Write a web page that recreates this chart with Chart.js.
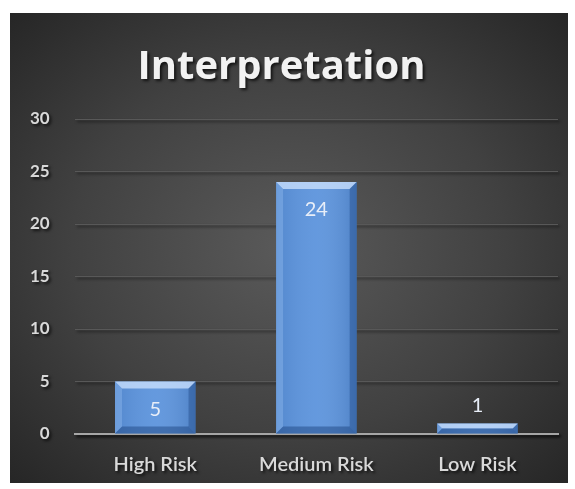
<!DOCTYPE html>
<html>
<head>
<meta charset="utf-8">
<script src="https://cdn.jsdelivr.net/npm/chart.js@4"></script>
<style>
    html, body { margin: 0; padding: 0; background: #ffffff; }
    #frame {
        position: absolute;
        left: 10px; top: 13px;
        width: 558px; height: 470px;
        background: radial-gradient(ellipse at 50% 50%, #5a5a5a 0%, #414141 55%, #262626 100%);
    }
    canvas { display: block; }
</style>
</head>
<body>
<div id="frame"><canvas id="chart" width="558" height="470"></canvas></div>
<script>
// Data
const categories = ['High Risk', 'Medium Risk', 'Low Risk'];
const values = [5, 24, 1];
const yTicks = [0, 5, 10, 15, 20, 25, 30];

const FONT = 'Lato, "Open Sans", sans-serif';
const BAR_BLUE = '#5b93dc';

/**
 * Bevel highlights + value labels on the bars
 */
const barDecor = {
    id: 'barDecor',
    afterDatasetsDraw(chart) {
        const ctx = chart.ctx;
        const meta = chart.getDatasetMeta(0);
        meta.data.forEach((bar, i) => {
            const left = bar.x - bar.width / 2;
            const right = bar.x + bar.width / 2;
            const top = bar.y;
            const bottom = bar.base;
            const h = bottom - top;
            const b = Math.min(7, h / 2);

            ctx.save();
            // soft horizontal sheen
            const g = ctx.createLinearGradient(left, 0, right, 0);
            g.addColorStop(0, 'rgba(20, 50, 100, 0.12)');
            g.addColorStop(0.5, 'rgba(255, 255, 255, 0.06)');
            g.addColorStop(1, 'rgba(20, 50, 100, 0.18)');
            ctx.fillStyle = g;
            ctx.fillRect(left, top, right - left, h);
            // top bevel (light)
            ctx.fillStyle = 'rgba(200, 222, 252, 0.8)';
            ctx.beginPath();
            ctx.moveTo(left, top);
            ctx.lineTo(right, top);
            ctx.lineTo(right - b, top + b);
            ctx.lineTo(left + b, top + b);
            ctx.closePath();
            ctx.fill();
            // left bevel
            ctx.fillStyle = 'rgba(150, 190, 240, 0.4)';
            ctx.beginPath();
            ctx.moveTo(left, top);
            ctx.lineTo(left + b, top + b);
            ctx.lineTo(left + b, bottom - b);
            ctx.lineTo(left, bottom);
            ctx.closePath();
            ctx.fill();
            // right bevel (dark)
            ctx.fillStyle = 'rgba(30, 70, 130, 0.4)';
            ctx.beginPath();
            ctx.moveTo(right, top);
            ctx.lineTo(right - b, top + b);
            ctx.lineTo(right - b, bottom - b);
            ctx.lineTo(right, bottom);
            ctx.closePath();
            ctx.fill();
            // bottom bevel
            ctx.fillStyle = 'rgba(30, 70, 130, 0.5)';
            ctx.beginPath();
            ctx.moveTo(left, bottom);
            ctx.lineTo(left + b, bottom - b);
            ctx.lineTo(right - b, bottom - b);
            ctx.lineTo(right, bottom);
            ctx.closePath();
            ctx.fill();

            // value label
            ctx.fillStyle = '#e8eef8';
            ctx.font = '20px ' + FONT;
            ctx.textAlign = 'center';
            ctx.textBaseline = 'middle';
            const ly = h > 40 ? top + 28 : top - 18;
            ctx.fillText(String(values[i]), bar.x, ly);
            ctx.restore();
        });
    }
};

/**
 * Title drawn with a soft shadow
 */
const titleShadow = {
    id: 'titleShadow',
    beforeDraw(chart) {
        chart.ctx.save();
        chart.ctx.shadowColor = 'rgba(0,0,0,0.7)';
        chart.ctx.shadowOffsetX = 2;
        chart.ctx.shadowOffsetY = 2;
        chart.ctx.shadowBlur = 3;
    },
    beforeDatasetsDraw(chart) {
        chart.ctx.restore();
    }
};

const ctx = document.getElementById('chart').getContext('2d');

new Chart(ctx, {
    type: 'bar',
    data: {
        labels: categories,
        datasets: [{
            data: values,
            backgroundColor: BAR_BLUE,
            borderWidth: 0,
            categoryPercentage: 0.5,
            barPercentage: 1.0
        }]
    },
    options: {
        responsive: false,
        animation: false,
        layout: { padding: { left: -5, right: 10, top: 12, bottom: -13 } },
        plugins: {
            legend: { display: false },
            tooltip: { enabled: false },
            title: {
                display: true,
                text: 'Interpretation',
                color: '#f2f2f2',
                font: { family: '"Open Sans", sans-serif', size: 40, weight: 'bold' },
                padding: { top: 19, bottom: 27 }
            }
        },
        scales: {
            x: {
                grid: { display: false, drawTicks: false },
                border: { color: '#a6a6a6', width: 2 },
                ticks: {
                    color: '#d9d9d9',
                    font: { family: FONT, size: 20, weight: '600' },
                    padding: 19
                }
            },
            y: {
                min: 0,
                max: 30,
                afterBuildTicks(axis) {
                    axis.ticks = yTicks.map(v => ({ value: v }));
                },
                grid: { color: '#585858', lineWidth: 1, drawTicks: false },
                border: { display: false },
                ticks: {
                    color: '#d9d9d9',
                    font: { family: FONT, size: 17, weight: 'bold' },
                    padding: 25
                }
            }
        }
    },
    plugins: [titleShadow, barDecor]
});
</script>
</body>
</html>
